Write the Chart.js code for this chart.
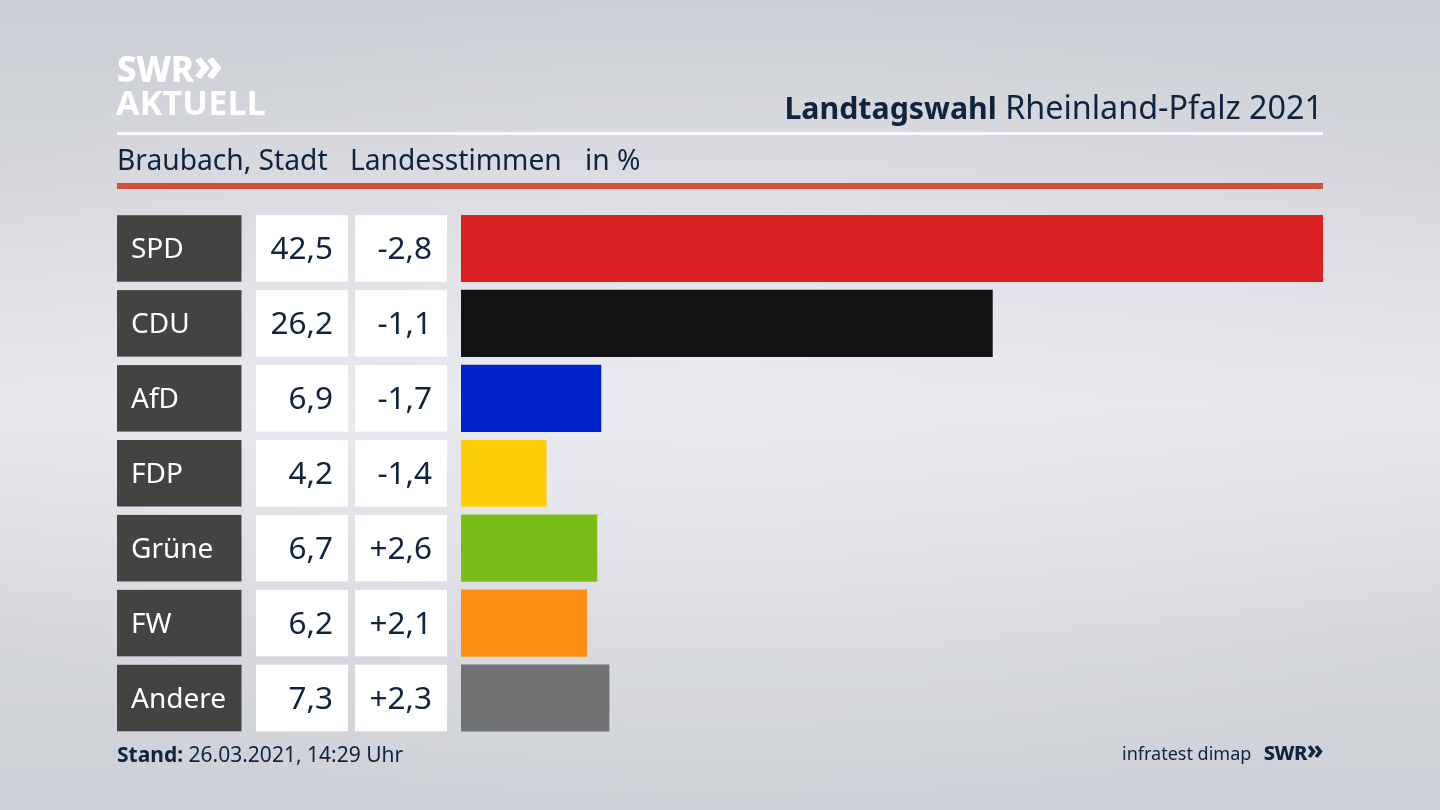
<!DOCTYPE html>
<html lang="de">
<head>
<meta charset="utf-8">
<title>Landtagswahl Rheinland-Pfalz 2021</title>
<script src="https://cdn.jsdelivr.net/npm/chart.js@4"></script>
<style>
    html, body { margin: 0; padding: 0; }
    body {
        width: 1440px; height: 810px; overflow: hidden; position: relative;
        font-family: "Noto Sans", sans-serif; color: #10233f;
        background:
            radial-gradient(ellipse 900px 420px at 50% 50%, rgba(238,239,244,0.5), rgba(238,239,244,0) 100%),
            linear-gradient(#cbced4 0%, #d5d7dd 22%, #e7e8ed 50%, #d5d7dd 78%, #cdd0d6 100%);
    }
    canvas { position: absolute; left: 0; top: 0; }
    .txt { position: absolute; white-space: pre; line-height: 1; }
    .rule { position: absolute; left: 117px; width: 1206px; }
    .chev { font-size: 1.3em; line-height: 0; position: relative; top: -1px; }
</style>
</head>
<body>
<canvas id="barChart" width="1440" height="810"></canvas>

<div class="txt" style="left:117px;top:51px;font-size:35px;font-weight:800;color:#fff;letter-spacing:-0.5px;">SWR<span class="chev">»</span></div>
<div class="txt" style="left:116px;top:85px;font-size:34px;font-weight:700;color:#fff;letter-spacing:0.2px;">AKTUELL</div>
<div class="txt" style="right:117px;top:90px;font-size:32.3px;"><b style="font-size:30.3px;">Landtagswahl</b> Rheinland-Pfalz 2021</div>
<div class="rule" style="top:132px;height:3px;background:#fff;"></div>
<div class="txt" style="left:117px;top:145px;font-size:28.2px;">Braubach, Stadt</div>
<div class="txt" style="left:350px;top:145px;font-size:28.2px;">Landesstimmen</div>
<div class="txt" style="left:585px;top:145px;font-size:28.2px;">in %</div>
<div class="rule" style="top:183px;height:6px;background:#cf5238;"></div>
<div class="txt" style="left:117px;top:744px;font-size:21px;"><b>Stand:</b> 26.03.2021, 14:29 Uhr</div>
<div class="txt" style="left:1122px;top:744px;font-size:18px;">infratest dimap</div>
<div class="txt" style="right:117px;top:743px;font-size:20px;font-weight:800;letter-spacing:-0.5px;">SWR<span class="chev">»</span></div>

<script>
const parties = ['SPD', 'CDU', 'AfD', 'FDP', 'Grüne', 'FW', 'Andere'];
const shares = [42.5, 26.2, 6.9, 4.2, 6.7, 6.2, 7.3];
const changes = [-2.8, -1.1, -1.7, -1.4, 2.6, 2.1, 2.3];
const barColors = ['#d7201f', '#121212', '#0022c8', '#ffcd05', '#7abd18', '#ff8f14', '#717274'];

const fmt = v => v.toFixed(1).replace('.', ',');
const fmtChange = v => (v > 0 ? '+' : '-') + fmt(Math.abs(v));

// party label and the two number cells left of each bar
const rowCells = {
    id: 'rowCells',
    afterDatasetsDraw(chart) {
        const ctx = chart.ctx;
        const yScale = chart.scales.y;
        ctx.save();
        ctx.textBaseline = 'middle';
        parties.forEach((party, i) => {
            const y = yScale.getPixelForValue(i);
            const top = y - 33.25;
            ctx.fillStyle = '#434341';
            ctx.fillRect(117, top, 124.5, 66.5);
            ctx.fillStyle = '#fff';
            ctx.fillRect(256, top, 92, 66.5);
            ctx.fillRect(355, top, 92, 66.5);

            ctx.textAlign = 'left';
            ctx.font = '28px "Noto Sans"';
            ctx.fillText(party, 131, y + 2);

            ctx.fillStyle = '#10233f';
            ctx.textAlign = 'right';
            ctx.font = '31.5px "Noto Sans"';
            ctx.fillText(fmt(shares[i]), 333, y + 2);
            ctx.fillText(fmtChange(changes[i]), 432, y + 2);
        });
        ctx.restore();
    }
};

new Chart(document.getElementById('barChart').getContext('2d'), {
    type: 'bar',
    data: {
        labels: parties,
        datasets: [{
            data: shares,
            backgroundColor: barColors,
            barThickness: 66.5,
            borderWidth: 0
        }]
    },
    options: {
        indexAxis: 'y',
        responsive: false,
        animation: false,
        layout: { padding: { left: 461, right: 117, top: 211, bottom: 74.5 } },
        plugins: {
            legend: { display: false },
            tooltip: { enabled: false }
        },
        scales: {
            x: { display: false, min: 0, max: 42.5 },
            y: { display: false }
        }
    },
    plugins: [rowCells]
});
</script>
</body>
</html>
